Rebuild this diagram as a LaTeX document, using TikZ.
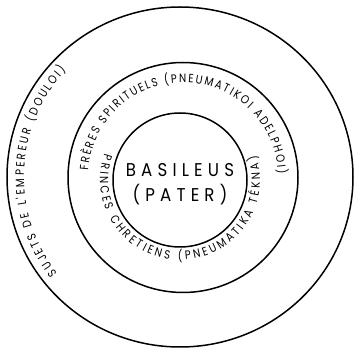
\documentclass[tikz,border=0pt]{standalone}
\usepackage{fontspec}
\setmainfont{Poppins}
\usetikzlibrary{decorations.text}
\newfontfamily\ringfont[FakeStretch=0.85]{Poppins}
\newfontfamily\kingfont[FakeStretch=0.9, LetterSpace=28]{Poppins}

\begin{document}
\begin{tikzpicture}[x=1pt, y=1pt,
        ring/.style={line width=1.5pt},
        ringtext/.style={decorate, decoration={text along path, text align=fit to path,
            text={|\ringfont\fontsize{12}{14}\selectfont|#1}}}]
        \useasboundingbox (0,0) rectangle (354,348);

        % Centres
        \coordinate (cO) at (180,171);
        \coordinate (cM) at (183,170.5);
        \coordinate (cI) at (180,168);

        % Circles
        \draw[ring] (cO) ellipse (173 and 170);
        \draw[ring] (cM) circle (115);
        \draw[ring] (cI) circle (67);

        % Labels along the rings
        \path[ringtext={SUJETS DE L'EMPEREUR (DOULOI)}] ([shift={(218:156)}]cO) arc (218:137:156);
        \path[ringtext={FRÈRES SPIRITUELS (PNEUMATIKOI ADELPHOI)}] ([shift={(176:95)}]cM) arc (176:2:95);
        \path[ringtext={PRINCES CHRETIENS (PNEUMATIKA TÉKNA)}] ([shift={(161:80)}]cI) arc (161:378:80);

        % Centre
        \node[font=\kingfont\fontsize{18.5}{25}\selectfont, align=center] (basileus) at ([yshift=-4]cI) {BASILEUS\\(PATER)};
    \end{tikzpicture}
\end{document}
